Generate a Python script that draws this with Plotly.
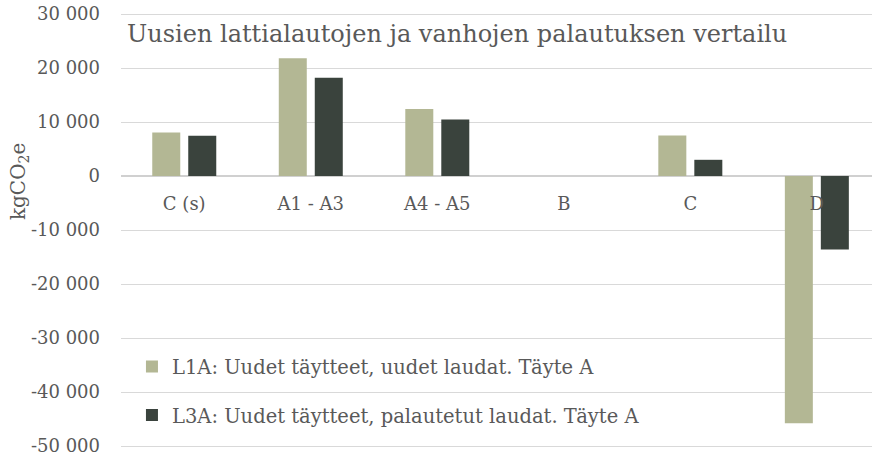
import plotly.graph_objects as go

# ─── Data ──────────────────────────────────────────────────────────────────────

CATEGORIES = ["C (s)", "A1 - A3", "A4 - A5", "B", "C", "D"]
L1A_VALUES = [8050, 21800, 12400, 0, 7500, -45800]
L3A_VALUES = [7450, 18200, 10450, 0, 3000, -13600]
L1A_NAME = "L1A: Uudet täytteet, uudet laudat. Täyte A"
L3A_NAME = "L3A: Uudet täytteet, palautetut laudat. Täyte A"

Y_TICKVALS = [30000, 20000, 10000, 0, -10000, -20000, -30000, -40000, -50000]
Y_TICKTEXT = ["30 000", "20 000", "10 000", "0", "-10 000", "-20 000",
              "-30 000", "-40 000", "-50 000"]
Y_MIN, Y_MAX = -50000, 30000

TITLE = "Uusien lattialautojen ja vanhojen palautuksen vertailu"

# ─── Style ─────────────────────────────────────────────────────────────────────

COLORS = {
    "green": "#B3B794",
    "dark": "#3A433D",
    "text": "#595959",
    "grid": "#D9D9D9",
}
FONT = "'DejaVu Serif', 'Liberation Serif', serif"
W, H = 872, 457
PAD = 370  # ~2px of padding so the end gridlines are not clipped by plotly

fig = go.Figure()
for name, vals, color, grp in [
    (L1A_NAME, L1A_VALUES, COLORS["green"], "g1"),
    (L3A_NAME, L3A_VALUES, COLORS["dark"], "g2"),
]:
    fig.add_trace(go.Bar(
        x=CATEGORIES,
        y=vals,
        name=name,
        legendgroup=grp,
        marker=dict(color=color, line=dict(width=0)),
    ))

fig.update_layout(
    width=W,
    height=H,
    paper_bgcolor="white",
    plot_bgcolor="white",
    font=dict(family=FONT, color=COLORS["text"], size=18),
    margin=dict(l=121, r=0, t=12, b=9, autoexpand=False),
    barmode="group",
    bargap=0.431,
    bargroupgap=0.222,
    title=dict(
        text=TITLE,
        font=dict(family=FONT, size=24, color=COLORS["text"]),
        xref="paper", x=0.008, xanchor="left",
        yref="container", y=1 - 34 / H, yanchor="middle",
    ),
    xaxis=dict(
        type="category",
        range=[-0.5, 5.436],
        anchor="free",
        position=(0 - (Y_MIN - PAD)) / ((Y_MAX + PAD) - (Y_MIN - PAD)),
        automargin=False,
        showgrid=False,
        showline=False,
        ticks="",
        ticklabelstandoff=15,
        tickfont=dict(family=FONT, size=18, color=COLORS["text"]),
    ),
    yaxis=dict(
        range=[Y_MIN - PAD, Y_MAX + PAD],
        tickvals=Y_TICKVALS,
        ticktext=Y_TICKTEXT,
        automargin=False,
        showgrid=True,
        gridcolor=COLORS["grid"],
        gridwidth=1,
        zeroline=True,
        zerolinecolor="#D0D0D0",
        zerolinewidth=1.5,
        showline=False,
        ticks="",
        ticklabelstandoff=20,
        tickfont=dict(family=FONT, size=18, color=COLORS["text"]),
    ),
    legend=dict(
        x=0.0146, xanchor="left",
        y=0.2307, yanchor="top",
        bgcolor="rgba(0,0,0,0)",
        font=dict(family=FONT, size=19.5, color=COLORS["text"]),
        tracegroupgap=20,
    ),
    annotations=[dict(
        text="kgCO<sub>2</sub>e",
        textangle=-90,
        xref="paper", x=-0.1358, xanchor="center",
        yref="paper", y=0.610, yanchor="middle",
        showarrow=False,
        font=dict(family=FONT, size=20, color=COLORS["text"]),
    )],
)

# drop the page's default body margin so the figure fills the window exactly
fig.write_html(
    "out.html",
    config={"displayModeBar": False},
    post_script="document.body.style.margin='0';",
)
